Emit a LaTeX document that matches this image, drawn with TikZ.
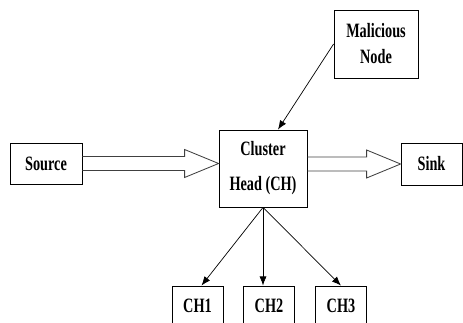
\documentclass[tikz,border=0pt]{standalone}
\usepackage{fontspec}
\usepackage{tikz}
\usetikzlibrary{calc,arrows.meta}
\newfontfamily\boxfont[FakeStretch=0.7]{Liberation Serif}
% hollow wide arrow between two points
\newcommand{\hollowarrow}[2]{%
  \draw[draw=black!75,line width=0.6pt] (#1) ++(0,0.175) -- ($(#2)+(-0.85,0.175)$) -- ++(0,0.175) -- (#2)
    -- ++(-0.85,-0.35) -- ++(0,0.175) -- ($(#1)+(0,-0.175)$);}

\begin{document}
\begin{tikzpicture}[box/.style={draw,rectangle,line width=0.6pt,align=center,inner sep=0pt,
    font=\boxfont\bfseries\fontsize{14.5}{18.5}\selectfont},
    link/.style={->,>={Latex[length=6.5pt,width=5pt]},line width=0.5pt}]
        \useasboundingbox (0,0) rectangle (11.575,8.05);
        \node [box,minimum width=1.8cm,minimum height=1.025cm](src)at(1.15,3.9625){Source};
        \node [box,minimum width=2.2cm,minimum height=1.925cm](ch)at(6.575,3.8375){Cluster\\[6.5pt]Head (CH)};
        \node [box,minimum width=2.1cm,minimum height=1.7cm](mal)at(9.4,6.95){Malicious\\Node};
        \node [box,minimum width=1.525cm,minimum height=1.05cm](sink)at(10.7875,3.95){Sink};
        \node [box,minimum width=1.275cm,minimum height=1cm](c1)at(4.9375,0.4){CH1};
        \node [box,minimum width=1.275cm,minimum height=1cm](c2)at(6.725,0.4){CH2};
        \node [box,minimum width=1.275cm,minimum height=1cm](c3)at(8.525,0.4){CH3};
        \coordinate(chin)at([xshift=0.375cm]ch.north);
        \hollowarrow{src.east}{src.east -| ch.west}
        \hollowarrow{sink.west -| ch.east}{sink.west}
        \draw[link](mal.west)--(chin);
        \draw[link](ch.south)--([xshift=0.1cm]c1.north);
        \draw[link](ch.south)--(ch.south |- c2.north);
        \draw[link](ch.south)--(c3.north);
\end{tikzpicture}
\end{document}
